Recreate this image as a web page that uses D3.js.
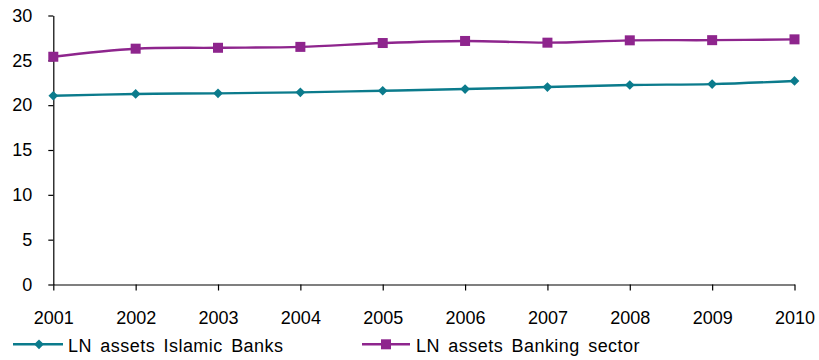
<!DOCTYPE html>
<html><head><meta charset="utf-8">
<script src="https://cdn.jsdelivr.net/npm/d3@7"></script>
<style>
html,body{margin:0;padding:0;background:#fff;}
svg{display:block;font-family:"Liberation Sans",Arial,sans-serif;}
</style></head>
<body><svg id="c" width="819" height="360"></svg>
<script>
const years = [2001,2002,2003,2004,2005,2006,2007,2008,2009,2010];
const islamic = [21.05,21.25,21.32,21.43,21.61,21.8,22.02,22.25,22.35,22.7];
const banking = [25.4,26.3,26.4,26.5,26.93,27.16,26.97,27.23,27.25,27.34];
const yTicks = [0,5,10,15,20,25,30];
const seriesNames = ["LN assets Islamic Banks","LN assets Banking sector"];
const colors = ["#0B7B8C","#8E258D"];

const svg = d3.select("#c");
const x = d3.scalePoint().domain(years).range([53.3, 794.5]);
const y = d3.scaleLinear().domain([0,30]).range([284.5, 15.5]);

const yAxis = svg.append("g").attr("transform","translate(53.3,0)")
  .call(d3.axisLeft(y).tickValues(yTicks).tickSize(5).tickPadding(16).tickSizeOuter(0));
const xAxis = svg.append("g").attr("transform","translate(0,284.5)")
  .call(d3.axisBottom(x).tickSize(6).tickPadding(21).tickSizeOuter(0));
[yAxis,xAxis].forEach(a=>{
  a.selectAll("path,line").attr("stroke","#000").attr("stroke-width",1.2);
  a.selectAll("text").attr("fill","#000").style("font-size","18px").style("font-family","Liberation Sans, Arial, sans-serif");
});

const line = d3.line().x((d,i)=>x(years[i])).y(d=>y(d)).curve(d3.curveCatmullRom.alpha(0.5));
const data = [islamic, banking];
data.forEach((vals,k)=>{
  svg.append("path").attr("d",line(vals)).attr("fill","none").attr("stroke",colors[k]).attr("stroke-width",2.4);
  const g = svg.append("g");
  vals.forEach((v,i)=>{
    if(k===0){
      g.append("path").attr("d",d3.symbol(d3.symbolDiamond2,60)())
        .attr("transform",`translate(${x(years[i])},${y(v)})`).attr("fill",colors[k]);
    } else {
      g.append("rect").attr("x",x(years[i])-5).attr("y",y(v)-5).attr("width",10).attr("height",10).attr("fill",colors[k]);
    }
  });
});

// legend
const leg = [{x1:13,x2:63,mx:39,tx:68},{x1:362,x2:410,mx:386,tx:416}];
leg.forEach((L,k)=>{
  const ly = 344.3;
  svg.append("line").attr("x1",L.x1).attr("x2",L.x2).attr("y1",ly).attr("y2",ly).attr("stroke",colors[k]).attr("stroke-width",2.4);
  if(k===0){
    svg.append("path").attr("d",d3.symbol(d3.symbolDiamond2,60)()).attr("transform",`translate(${L.mx},${ly})`).attr("fill",colors[k]);
  } else {
    svg.append("rect").attr("x",L.mx-5).attr("y",ly-5).attr("width",10).attr("height",10).attr("fill",colors[k]);
  }
  svg.append("text").attr("x",L.tx).attr("y",351.5).attr("fill","#000").style("font-size","18px")
    .style("word-spacing","3px").style("letter-spacing","0.45px").text(seriesNames[k]);
});
</script></body></html>
